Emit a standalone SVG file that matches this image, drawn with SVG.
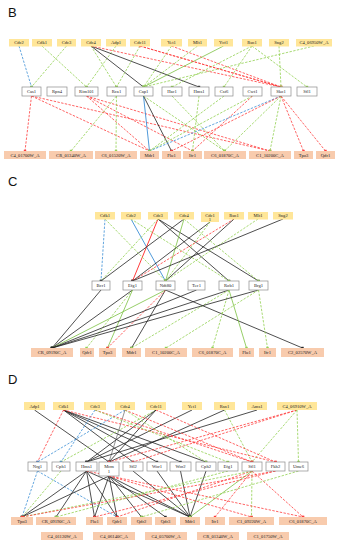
<svg xmlns="http://www.w3.org/2000/svg" width="340" height="550" viewBox="0 0 340 550">
<defs>
<style>
.y{fill:#FFE699}
.o{fill:#F8CBAD}
.w{fill:#fff;stroke:#8c8c8c;stroke-width:0.7}
.t{font-family:"Liberation Serif",serif;font-size:4.6px;text-anchor:middle;fill:#222}
.pl{font-family:"Liberation Sans",Arial,sans-serif;font-size:13px;fill:#111}
.e line{fill:none}
.gd{stroke:#92D050;stroke-width:0.8;stroke-dasharray:2.4 1.4;marker-end:url(#mg)}
.rd{stroke:#FF3B3B;stroke-width:0.8;stroke-dasharray:2.4 1.4;marker-end:url(#mr)}
.bd{stroke:#3C8FD6;stroke-width:0.8;stroke-dasharray:2.4 1.4;marker-end:url(#mb)}
.k{stroke:#222;stroke-width:0.8;marker-end:url(#mk)}
.bs{stroke:#3C8FD6;stroke-width:0.9;marker-end:url(#mb)}
.gs{stroke:#7CC242;stroke-width:0.8;marker-end:url(#mg)}
.rs{stroke:#FF3B3B;stroke-width:1;marker-end:url(#mr)}
.gy{stroke:#777;stroke-width:0.8;marker-end:url(#mk)}
</style>
<marker id="mg" markerWidth="4" markerHeight="4" refX="2" refY="2" markerUnits="userSpaceOnUse"><rect x="0.8" y="0.8" width="2.4" height="2.4" fill="#92D050"/></marker>
<marker id="mr" markerWidth="4" markerHeight="4" refX="2" refY="2" markerUnits="userSpaceOnUse"><rect x="0.8" y="0.8" width="2.4" height="2.4" fill="#FF3B3B"/></marker>
<marker id="mb" markerWidth="4" markerHeight="4" refX="2" refY="2" markerUnits="userSpaceOnUse"><rect x="0.8" y="0.8" width="2.4" height="2.4" fill="#3C8FD6"/></marker>
<marker id="mk" markerWidth="4" markerHeight="4" refX="2" refY="2" markerUnits="userSpaceOnUse"><rect x="0.8" y="0.8" width="2.4" height="2.4" fill="#222"/></marker>
</defs>
<rect width="340" height="550" fill="#fff"/>

<text class="pl" x="8" y="17">B</text>
<text class="pl" x="8" y="186">C</text>
<text class="pl" x="8" y="384">D</text>

<g id="connectors" class="e">
<!-- Panel B top->mid -->
<line class="bd" x1="19" y1="46" x2="31.5" y2="87"/>
<line class="gd" x1="42" y1="46" x2="86.5" y2="87"/>
<line class="gd" x1="66.5" y1="46" x2="31.5" y2="87"/>
<line class="gd" x1="91" y1="46" x2="116.5" y2="87"/>
<line class="gd" x1="116" y1="46" x2="86.5" y2="87"/>
<line class="k" x1="91" y1="46" x2="143.5" y2="87"/>
<line class="k" x1="91" y1="46" x2="199" y2="87"/>
<line class="rd" x1="91" y1="46" x2="281" y2="87"/>
<line class="rd" x1="140" y1="46" x2="281" y2="87"/>
<line class="gd" x1="140" y1="46" x2="116.5" y2="87"/>
<line class="gd" x1="171.5" y1="46" x2="143.5" y2="87"/>
<line class="rd" x1="171.5" y1="46" x2="281" y2="87"/>
<line class="gd" x1="197.5" y1="46" x2="143.5" y2="87"/>
<line class="gs" x1="223.5" y1="46" x2="143.5" y2="87"/>
<line class="gd" x1="252" y1="46" x2="224" y2="87"/>
<line class="gd" x1="252" y1="46" x2="307" y2="87"/>
<line class="gd" x1="252" y1="46" x2="172" y2="87"/>
<line class="gd" x1="279" y1="46" x2="281" y2="87"/>
<line class="gd" x1="314" y1="46" x2="143.5" y2="87"/>
<line class="rd" x1="281" y1="87" x2="140" y2="46"/>
<!-- Panel B mid->bottom -->
<line class="rd" x1="31.5" y1="96" x2="25" y2="151"/>
<line class="rd" x1="31.5" y1="96" x2="149.5" y2="151"/>
<line class="rd" x1="31.5" y1="96" x2="270" y2="151"/>
<line class="rd" x1="86.5" y1="96" x2="149.5" y2="151"/>
<line class="rd" x1="86.5" y1="96" x2="270" y2="151"/>
<line class="rd" x1="86.5" y1="96" x2="192.5" y2="151"/>
<line class="gd" x1="116.5" y1="96" x2="71" y2="151"/>
<line class="gd" x1="116.5" y1="96" x2="116" y2="151"/>
<line class="bs" x1="143.5" y1="96" x2="149.5" y2="151"/>
<line class="k" x1="143.5" y1="96" x2="171.5" y2="151"/>
<line class="gd" x1="143.5" y1="96" x2="224.5" y2="151"/>
<line class="gd" x1="172" y1="96" x2="224.5" y2="151"/>
<line class="gd" x1="252.5" y1="96" x2="149.5" y2="151"/>
<line class="rd" x1="252.5" y1="96" x2="192.5" y2="151"/>
<line class="bd" x1="281" y1="96" x2="149.5" y2="151"/>
<line class="gd" x1="281" y1="96" x2="224.5" y2="151"/>
<line class="rd" x1="281" y1="96" x2="303.5" y2="151"/>
<line class="rd" x1="281" y1="96" x2="325.5" y2="151"/>
<line class="gd" x1="281" y1="96" x2="270" y2="151"/>
<line class="rd" x1="281" y1="96" x2="171.5" y2="151"/>
<line class="gd" x1="199" y1="96" x2="192.5" y2="151"/>
<line class="gd" x1="224" y1="96" x2="149.5" y2="151"/>

<!-- Panel C top->mid -->
<line class="bd" x1="105" y1="219" x2="101" y2="281"/>
<line class="bs" x1="131" y1="219" x2="165.5" y2="281"/>
<line class="rs" x1="158" y1="219" x2="132.5" y2="281"/>
<line class="k" x1="158" y1="219" x2="229" y2="281"/>
<line class="k" x1="158" y1="219" x2="258.5" y2="281"/>
<line class="gd" x1="158" y1="219" x2="101" y2="281"/>
<line class="k" x1="184" y1="219" x2="101" y2="281"/>
<line class="gs" x1="184" y1="219" x2="165.5" y2="281"/>
<line class="k" x1="210" y1="222" x2="132.5" y2="281"/>
<line class="gd" x1="210" y1="222" x2="165.5" y2="281"/>
<line class="rd" x1="234" y1="219" x2="132.5" y2="281"/>
<line class="k" x1="234" y1="219" x2="165.5" y2="281"/>
<line class="gd" x1="258" y1="219" x2="165.5" y2="281"/>
<line class="k" x1="283" y1="219" x2="132.5" y2="281"/>
<line class="gd" x1="105" y1="219" x2="165.5" y2="281"/>
<line class="gd" x1="131" y1="219" x2="229" y2="281"/>
<line class="gd" x1="184" y1="219" x2="258.5" y2="281"/>
<!-- Panel C mid->bottom -->
<line class="k" x1="101" y1="290" x2="52" y2="348"/>
<line class="k" x1="132.5" y1="290" x2="52" y2="348"/>
<line class="gd" x1="132.5" y1="290" x2="86.5" y2="348"/>
<line class="gs" x1="132.5" y1="290" x2="107.5" y2="348"/>
<line class="gs" x1="165.5" y1="290" x2="52" y2="348"/>
<line class="k" x1="165.5" y1="290" x2="131.5" y2="348"/>
<line class="rd" x1="165.5" y1="290" x2="107.5" y2="348"/>
<line class="k" x1="165.5" y1="290" x2="302.5" y2="348"/>
<line class="k" x1="229" y1="290" x2="52" y2="348"/>
<line class="gs" x1="229" y1="290" x2="246.5" y2="348"/>
<line class="gd" x1="229" y1="290" x2="212.5" y2="348"/>
<line class="gd" x1="229" y1="290" x2="131.5" y2="348"/>
<line class="k" x1="258.5" y1="290" x2="52" y2="348"/>
<line class="gd" x1="258.5" y1="290" x2="267.5" y2="348"/>
<line class="gd" x1="258.5" y1="290" x2="166" y2="348"/>
<line class="k" x1="196.5" y1="290" x2="52" y2="348"/>

<!-- Panel D top->mid -->
<line class="k" x1="34.5" y1="410" x2="109" y2="462"/>
<line class="k" x1="63.5" y1="410" x2="133" y2="462"/>
<line class="k" x1="63.5" y1="410" x2="157" y2="462"/>
<line class="k" x1="63.5" y1="410" x2="180.5" y2="462"/>
<line class="k" x1="63.5" y1="410" x2="206" y2="462"/>
<line class="rd" x1="63.5" y1="410" x2="37.5" y2="462"/>
<line class="bd" x1="125" y1="410" x2="37.5" y2="462"/>
<line class="gd" x1="156" y1="410" x2="61" y2="462"/>
<line class="gy" x1="125" y1="410" x2="109" y2="462"/>
<line class="k" x1="156" y1="410" x2="86.5" y2="462"/>
<line class="k" x1="156" y1="410" x2="109" y2="462"/>
<line class="k" x1="192" y1="410" x2="86.5" y2="462"/>
<line class="k" x1="224.5" y1="410" x2="109" y2="462"/>
<line class="gd" x1="224.5" y1="410" x2="252" y2="462"/>
<line class="k" x1="257" y1="410" x2="86.5" y2="462"/>
<line class="rd" x1="297" y1="410" x2="109" y2="462"/>
<line class="rd" x1="297" y1="410" x2="133" y2="462"/>
<line class="gd" x1="297" y1="410" x2="298.5" y2="462"/>
<line class="gd" x1="297" y1="410" x2="252" y2="462"/>
<line class="rd" x1="95" y1="410" x2="252" y2="462"/>
<line class="rd" x1="63.5" y1="410" x2="275.5" y2="462"/>
<line class="gd" x1="95" y1="410" x2="228" y2="462"/>
<line class="rd" x1="125" y1="410" x2="252" y2="462"/>
<line class="gd" x1="125" y1="410" x2="206" y2="462"/>
<line class="rd" x1="156" y1="410" x2="275.5" y2="462"/>
<line class="bd" x1="95" y1="410" x2="61" y2="462"/>
<!-- Panel D mid->bottom -->
<line class="bd" x1="37.5" y1="471" x2="22" y2="517"/>
<line class="bd" x1="37.5" y1="471" x2="117" y2="517"/>
<line class="gd" x1="61" y1="471" x2="22" y2="517"/>
<line class="k" x1="86.5" y1="471" x2="22" y2="517"/>
<line class="k" x1="86.5" y1="471" x2="56" y2="517"/>
<line class="k" x1="86.5" y1="471" x2="94.5" y2="517"/>
<line class="k" x1="86.5" y1="471" x2="117" y2="517"/>
<line class="k" x1="86.5" y1="471" x2="190" y2="517"/>
<line class="k" x1="109" y1="476" x2="94.5" y2="517"/>
<line class="k" x1="109" y1="476" x2="117" y2="517"/>
<line class="k" x1="109" y1="476" x2="141.5" y2="517"/>
<line class="k" x1="109" y1="476" x2="165.5" y2="517"/>
<line class="k" x1="109" y1="476" x2="190" y2="517"/>
<line class="k" x1="109" y1="476" x2="22" y2="517"/>
<line class="k" x1="133" y1="471" x2="190" y2="517"/>
<line class="k" x1="157" y1="471" x2="190" y2="517"/>
<line class="k" x1="180.5" y1="471" x2="190" y2="517"/>
<line class="k" x1="206" y1="471" x2="190" y2="517"/>
<line class="gs" x1="252" y1="471" x2="190" y2="517"/>
<line class="rd" x1="252" y1="471" x2="117" y2="517"/>
<line class="rd" x1="252" y1="471" x2="215" y2="517"/>
<line class="gd" x1="252" y1="471" x2="251.5" y2="517"/>
<line class="rd" x1="252" y1="471" x2="303" y2="517"/>
<line class="gd" x1="252" y1="471" x2="22" y2="517"/>
<line class="rd" x1="275.5" y1="471" x2="94.5" y2="517"/>
<line class="rd" x1="275.5" y1="471" x2="22" y2="517"/>
<line class="gd" x1="298.5" y1="471" x2="141.5" y2="517"/>
<line class="rd" x1="109" y1="476" x2="251.5" y2="517"/>
<line class="rd" x1="86.5" y1="471" x2="303" y2="517"/>
<line class="gd" x1="228" y1="471" x2="56" y2="517"/>
</g>

<!-- Panel B nodes -->
<g id="b-cdc2"><rect class="y" x="9" y="39" width="20" height="7.5"/><text class="t" x="19" y="44.3">Cdc2</text></g>
<g id="b-cdk1"><rect class="y" x="32" y="39" width="20" height="7.5"/><text class="t" x="42" y="44.3">Cdk1</text></g>
<g id="b-cdc3"><rect class="y" x="57" y="39" width="19" height="7.5"/><text class="t" x="66.5" y="44.3">Cdc3</text></g>
<g id="b-cdc4"><rect class="y" x="81" y="39" width="20" height="7.5"/><text class="t" x="91" y="44.3">Cdc4</text></g>
<g id="b-adp1"><rect class="y" x="106" y="39" width="20" height="7.5"/><text class="t" x="116" y="44.3">Adp1</text></g>
<g id="b-cdc11"><rect class="y" x="130" y="39" width="20" height="7.5"/><text class="t" x="140" y="44.3">Cdc11</text></g>
<g id="b-yet1"><rect class="y" x="161" y="39" width="21" height="7.5"/><text class="t" x="171.5" y="44.3">Yet1</text></g>
<g id="b-mlt1"><rect class="y" x="188" y="39" width="19" height="7.5"/><text class="t" x="197.5" y="44.3">Mlt1</text></g>
<g id="b-ycf1"><rect class="y" x="214" y="39" width="19" height="7.5"/><text class="t" x="223.5" y="44.3">Ycf1</text></g>
<g id="b-rsn1"><rect class="y" x="242" y="39" width="20" height="7.5"/><text class="t" x="252" y="44.3">Rsn1</text></g>
<g id="b-sng2"><rect class="y" x="269" y="39" width="20" height="7.5"/><text class="t" x="279" y="44.3">Sng2</text></g>
<g id="b-c4_06950w"><rect class="y" x="296" y="39" width="36" height="7.5"/><text class="t" x="314" y="44.3">C4_06950W_A</text></g>

<g id="b-cas1"><rect class="w" x="22" y="87" width="19" height="9"/><text class="t" x="31.5" y="93.2">Cas1</text></g>
<g id="b-rpn4"><rect class="w" x="47" y="87" width="20" height="9"/><text class="t" x="57" y="93.2">Rpn4</text></g>
<g id="b-rim101"><rect class="w" x="75" y="87" width="23" height="9"/><text class="t" x="86.5" y="93.2">Rim101</text></g>
<g id="b-rca1"><rect class="w" x="107" y="87" width="19" height="9"/><text class="t" x="116.5" y="93.2">Rca1</text></g>
<g id="b-cap1"><rect class="w" x="134" y="87" width="19" height="9"/><text class="t" x="143.5" y="93.2">Cap1</text></g>
<g id="b-hac1"><rect class="w" x="162" y="87" width="20" height="9"/><text class="t" x="172" y="93.2">Hac1</text></g>
<g id="b-hms1"><rect class="w" x="189" y="87" width="20" height="9"/><text class="t" x="199" y="93.2">Hms1</text></g>
<g id="b-cst6"><rect class="w" x="215" y="87" width="18" height="9"/><text class="t" x="224" y="93.2">Cst6</text></g>
<g id="b-cwt1"><rect class="w" x="243" y="87" width="19" height="9"/><text class="t" x="252.5" y="93.2">Cwt1</text></g>
<g id="b-sko1"><rect class="w" x="271" y="87" width="20" height="9"/><text class="t" x="281" y="93.2">Sko1</text></g>
<g id="b-sfl1"><rect class="w" x="297" y="87" width="20" height="9"/><text class="t" x="307" y="93.2">Sfl1</text></g>

<g id="b-c4_01700w"><rect class="o" x="4" y="151" width="42" height="8"/><text class="t" x="25" y="156.6">C4_01700W_A</text></g>
<g id="b-cr_01340w"><rect class="o" x="49" y="151" width="44" height="8"/><text class="t" x="71" y="156.6">CR_01340W_A</text></g>
<g id="b-c6_01520w"><rect class="o" x="95" y="151" width="42" height="8"/><text class="t" x="116" y="156.6">C6_01520W_A</text></g>
<g id="b-mdr1"><rect class="o" x="140" y="151" width="19" height="8"/><text class="t" x="149.5" y="156.6">Mdr1</text></g>
<g id="b-flu1"><rect class="o" x="162" y="151" width="19" height="8"/><text class="t" x="171.5" y="156.6">Flu1</text></g>
<g id="b-ifr1"><rect class="o" x="183" y="151" width="19" height="8"/><text class="t" x="192.5" y="156.6">Ifr1</text></g>
<g id="b-c6_01870c"><rect class="o" x="204" y="151" width="42" height="8"/><text class="t" x="225" y="156.6">C6_01870C_A</text></g>
<g id="b-c1_10200c"><rect class="o" x="249" y="151" width="42" height="8"/><text class="t" x="270" y="156.6">C1_10200C_A</text></g>
<g id="b-tpo3"><rect class="o" x="294" y="151" width="19" height="8"/><text class="t" x="303.5" y="156.6">Tpo3</text></g>
<g id="b-qdr1"><rect class="o" x="316" y="151" width="19" height="8"/><text class="t" x="325.5" y="156.6">Qdr1</text></g>

<!-- Panel C nodes -->
<g id="c-cdk1"><rect class="y" x="95" y="212" width="20" height="7.5"/><text class="t" x="105" y="217.3">Cdk1</text></g>
<g id="c-cdc2"><rect class="y" x="121" y="212" width="20" height="7.5"/><text class="t" x="131" y="217.3">Cdc2</text></g>
<g id="c-cdc3"><rect class="y" x="148" y="212" width="20" height="7.5"/><text class="t" x="158" y="217.3">Cdc3</text></g>
<g id="c-cdc4"><rect class="y" x="174" y="212" width="20" height="7.5"/><text class="t" x="184" y="217.3">Cdc4</text></g>
<g id="c-cdc11"><rect class="y" x="201" y="212" width="18" height="10"/><text class="t" x="210" y="216.5">Cdc1</text><text class="t" x="210" y="221">1</text></g>
<g id="c-rsn1"><rect class="y" x="224" y="212" width="20" height="7.5"/><text class="t" x="234" y="217.3">Rsn1</text></g>
<g id="c-mlt1"><rect class="y" x="248" y="212" width="20" height="7.5"/><text class="t" x="258" y="217.3">Mlt1</text></g>
<g id="c-sng2"><rect class="y" x="273" y="212" width="20" height="7.5"/><text class="t" x="283" y="217.3">Sng2</text></g>

<g id="c-bcr1"><rect class="w" x="92" y="281" width="18" height="9"/><text class="t" x="101" y="287.2">Bcr1</text></g>
<g id="c-efg1"><rect class="w" x="123" y="281" width="19" height="9"/><text class="t" x="132.5" y="287.2">Efg1</text></g>
<g id="c-ndt80"><rect class="w" x="156" y="281" width="19" height="9"/><text class="t" x="165.5" y="287.2">Ndt80</text></g>
<g id="c-tec1"><rect class="w" x="188" y="281" width="17" height="9"/><text class="t" x="196.5" y="287.2">Tec1</text></g>
<g id="c-rob1"><rect class="w" x="219" y="281" width="20" height="9"/><text class="t" x="229" y="287.2">Rob1</text></g>
<g id="c-brg1"><rect class="w" x="249" y="281" width="19" height="9"/><text class="t" x="258.5" y="287.2">Brg1</text></g>

<g id="c-cr_09190c"><rect class="o" x="31" y="348" width="42" height="9"/><text class="t" x="52" y="354">CR_09190C_A</text></g>
<g id="c-qdr1"><rect class="o" x="80" y="348" width="14" height="9"/><text class="t" x="87" y="354">Qdr1</text></g>
<g id="c-tpo3"><rect class="o" x="99" y="348" width="17" height="9"/><text class="t" x="107.5" y="354">Tpo3</text></g>
<g id="c-mdr1"><rect class="o" x="122" y="348" width="19" height="9"/><text class="t" x="131.5" y="354">Mdr1</text></g>
<g id="c-c1_10200c"><rect class="o" x="145" y="348" width="42" height="9"/><text class="t" x="166" y="354">C1_10200C_A</text></g>
<g id="c-c6_01870c"><rect class="o" x="192" y="348" width="41" height="9"/><text class="t" x="212.5" y="354">C6_01870C_A</text></g>
<g id="c-flu1"><rect class="o" x="239" y="348" width="15" height="9"/><text class="t" x="246.5" y="354">Flu1</text></g>
<g id="c-ifr1"><rect class="o" x="259" y="348" width="17" height="9"/><text class="t" x="267.5" y="354">Ifr1</text></g>
<g id="c-c2_02570w"><rect class="o" x="281" y="348" width="43" height="9"/><text class="t" x="302.5" y="354">C2_02570W_A</text></g>

<!-- Panel D nodes -->
<g id="d-adp1"><rect class="y" x="24" y="402" width="21" height="8"/><text class="t" x="34.5" y="407.6">Adp1</text></g>
<g id="d-cdk1"><rect class="y" x="53" y="402" width="21" height="8"/><text class="t" x="63.5" y="407.6">Cdk1</text></g>
<g id="d-cdc3"><rect class="y" x="84" y="402" width="22" height="8"/><text class="t" x="95" y="407.6">Cdc3</text></g>
<g id="d-cdc4"><rect class="y" x="115" y="402" width="20" height="8"/><text class="t" x="125" y="407.6">Cdc4</text></g>
<g id="d-cdc11"><rect class="y" x="146" y="402" width="20" height="8"/><text class="t" x="156" y="407.6">Cdc11</text></g>
<g id="d-yet1"><rect class="y" x="182" y="402" width="20" height="8"/><text class="t" x="192" y="407.6">Yet1</text></g>
<g id="d-rsn1"><rect class="y" x="214" y="402" width="21" height="8"/><text class="t" x="224.5" y="407.6">Rsn1</text></g>
<g id="d-ams1"><rect class="y" x="247" y="402" width="20" height="8"/><text class="t" x="257" y="407.6">Ams1</text></g>
<g id="d-c4_06910w"><rect class="y" x="277" y="402" width="40" height="8"/><text class="t" x="297" y="407.6">C4_06910W_A</text></g>

<g id="d-nrg1"><rect class="w" x="28" y="462" width="19" height="9"/><text class="t" x="37.5" y="468.2">Nrg1</text></g>
<g id="d-cph1"><rect class="w" x="52" y="462" width="18" height="9"/><text class="t" x="61" y="468.2">Cph1</text></g>
<g id="d-hms1"><rect class="w" x="76" y="462" width="21" height="9"/><text class="t" x="86.5" y="468.2">Hms1</text></g>
<g id="d-mcm1"><rect class="w" x="99" y="462" width="20" height="14"/><text class="t" x="109" y="468">Mcm</text><text class="t" x="109" y="473">1</text></g>
<g id="d-sfl2"><rect class="w" x="123" y="462" width="20" height="9"/><text class="t" x="133" y="468.2">Sfl2</text></g>
<g id="d-wor1"><rect class="w" x="147" y="462" width="20" height="9"/><text class="t" x="157" y="468.2">Wor1</text></g>
<g id="d-wor2"><rect class="w" x="170" y="462" width="21" height="9"/><text class="t" x="180.5" y="468.2">Wor2</text></g>
<g id="d-cph2"><rect class="w" x="196" y="462" width="20" height="9"/><text class="t" x="206" y="468.2">Cph2</text></g>
<g id="d-efg1"><rect class="w" x="218" y="462" width="20" height="9"/><text class="t" x="228" y="468.2">Efg1</text></g>
<g id="d-sfl1"><rect class="w" x="242" y="462" width="20" height="9"/><text class="t" x="252" y="468.2">Sfl1</text></g>
<g id="d-fkh2"><rect class="w" x="266" y="462" width="19" height="9"/><text class="t" x="275.5" y="468.2">Fkh2</text></g>
<g id="d-ume6"><rect class="w" x="289" y="462" width="19" height="9"/><text class="t" x="298.5" y="468.2">Ume6</text></g>

<g id="d-tpo3"><rect class="o" x="11" y="517" width="22" height="8"/><text class="t" x="22" y="522.6">Tpo3</text></g>
<g id="d-cr_09190c"><rect class="o" x="36" y="517" width="40" height="8"/><text class="t" x="56" y="522.6">CR_09190C_A</text></g>
<g id="d-flu1"><rect class="o" x="86" y="517" width="17" height="8"/><text class="t" x="94.5" y="522.6">Flu1</text></g>
<g id="d-qdr1"><rect class="o" x="107" y="517" width="20" height="8"/><text class="t" x="117" y="522.6">Qdr1</text></g>
<g id="d-qdr2"><rect class="o" x="131" y="517" width="21" height="8"/><text class="t" x="141.5" y="522.6">Qdr2</text></g>
<g id="d-qdr3"><rect class="o" x="155" y="517" width="21" height="8"/><text class="t" x="165.5" y="522.6">Qdr3</text></g>
<g id="d-mdr1"><rect class="o" x="180" y="517" width="20" height="8"/><text class="t" x="190" y="522.6">Mdr1</text></g>
<g id="d-ifr1"><rect class="o" x="205" y="517" width="20" height="8"/><text class="t" x="215" y="522.6">Ifr1</text></g>
<g id="d-c1_09220w"><rect class="o" x="229" y="517" width="45" height="8"/><text class="t" x="251.5" y="522.6">C1_09220W_A</text></g>
<g id="d-c6_01870c"><rect class="o" x="279" y="517" width="48" height="8"/><text class="t" x="303" y="522.6">C6_01870C_A</text></g>

<g id="d-c4_01120w"><rect class="o" x="41" y="532" width="42" height="8"/><text class="t" x="62" y="537.6">C4_01120W_A</text></g>
<g id="d-c4_06140c"><rect class="o" x="93" y="532" width="42" height="8"/><text class="t" x="114" y="537.6">C4_06140C_A</text></g>
<g id="d-c4_05700w"><rect class="o" x="145" y="532" width="42" height="8"/><text class="t" x="166" y="537.6">C4_05700W_A</text></g>
<g id="d-cr_01340w"><rect class="o" x="197" y="532" width="42" height="8"/><text class="t" x="218" y="537.6">CR_01340W_A</text></g>
<g id="d-c1_01750w"><rect class="o" x="247" y="532" width="42" height="8"/><text class="t" x="268" y="537.6">C1_01750W_A</text></g>
</svg>
